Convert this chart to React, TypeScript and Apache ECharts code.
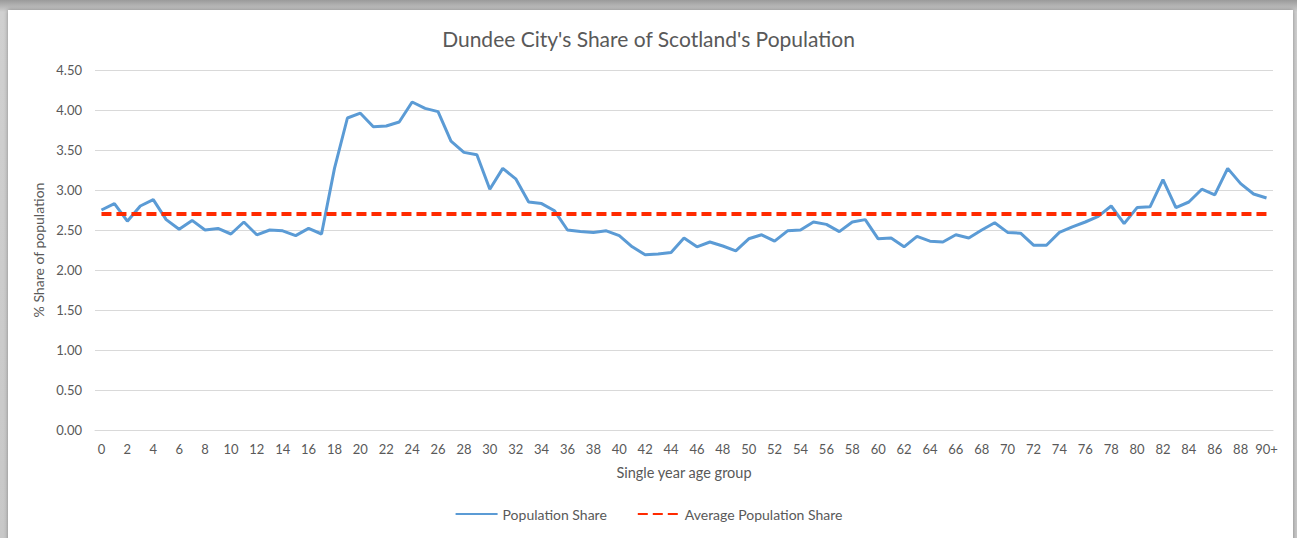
import React, { useEffect, useRef } from "react";
import * as echarts from "echarts";

const ageGroups: string[] = [
  "0","1","2","3","4","5","6","7","8","9","10","11","12","13","14","15","16","17","18","19",
  "20","21","22","23","24","25","26","27","28","29","30","31","32","33","34","35","36","37","38","39",
  "40","41","42","43","44","45","46","47","48","49","50","51","52","53","54","55","56","57","58","59",
  "60","61","62","63","64","65","66","67","68","69","70","71","72","73","74","75","76","77","78","79",
  "80","81","82","83","84","85","86","87","88","89","90+",
];

const populationShare: number[] = [
  2.75, 2.83, 2.61, 2.80, 2.88, 2.63, 2.51, 2.62, 2.50, 2.52,
  2.45, 2.60, 2.44, 2.50, 2.49, 2.43, 2.52, 2.45, 3.27, 3.90,
  3.96, 3.79, 3.80, 3.85, 4.10, 4.02, 3.98, 3.61, 3.47, 3.44,
  3.01, 3.27, 3.14, 2.85, 2.83, 2.74, 2.50, 2.48, 2.47, 2.49,
  2.43, 2.29, 2.19, 2.20, 2.22, 2.40, 2.29, 2.35, 2.30, 2.24,
  2.39, 2.44, 2.36, 2.49, 2.50, 2.60, 2.57, 2.48, 2.60, 2.63,
  2.39, 2.40, 2.29, 2.42, 2.36, 2.35, 2.44, 2.40, 2.50, 2.59,
  2.47, 2.46, 2.31, 2.31, 2.47, 2.54, 2.60, 2.67, 2.80, 2.58,
  2.78, 2.79, 3.13, 2.78, 2.85, 3.01, 2.94, 3.27, 3.08, 2.95,
  2.90,
];

const averageShare: number = 2.7;

const yTicks = { min: 0, max: 4.5, interval: 0.5 };

const chartTitle = "Dundee City's Share of Scotland's Population";
const xAxisTitle = "Single year age group";
const yAxisTitle = "% Share of population";
const seriesNames = ["Population Share", "Average Population Share"];

const FONT = "Lato, 'Open Sans', sans-serif";
const TXT = "#595959";

export default function App() {
  const ref = useRef<HTMLDivElement>(null);

  useEffect(() => {
    if (!ref.current) return;
    const chart = echarts.init(ref.current, null, { renderer: "svg" });
    const avgData = ageGroups.map(() => averageShare);
    chart.setOption({
      animation: false,
      backgroundColor: "transparent",
      textStyle: { fontFamily: FONT, color: TXT },
      title: {
        text: chartTitle,
        left: "center",
        top: 23,
        textStyle: { fontFamily: FONT, fontSize: 21, fontWeight: "normal", color: TXT },
      },
      legend: {
        bottom: 12,
        left: "center",
        itemWidth: 42,
        itemHeight: 10,
        itemGap: 30,
        itemStyle: { opacity: 0 },
        textStyle: { fontFamily: FONT, fontSize: 14, color: TXT },
        data: seriesNames,
      },
      grid: { left: 95, right: 24, top: 70, bottom: 108, containLabel: false },
      xAxis: {
        type: "category",
        data: ageGroups,
        boundaryGap: true,
        name: xAxisTitle,
        nameLocation: "middle",
        nameGap: 35,
        nameTextStyle: { fontFamily: FONT, fontSize: 14.5, color: TXT },
        axisLine: { show: true, lineStyle: { color: "#D9D9D9", width: 1 } },
        axisTick: { show: false },
        axisLabel: { interval: 1, margin: 12, fontSize: 13, color: TXT, fontFamily: FONT },
      },
      yAxis: {
        type: "value",
        min: yTicks.min,
        max: yTicks.max,
        interval: yTicks.interval,
        name: yAxisTitle,
        nameLocation: "middle",
        nameGap: 50,
        nameRotate: 90,
        nameTextStyle: { fontFamily: FONT, fontSize: 14, color: TXT },
        axisLine: { show: false },
        axisTick: { show: false },
        axisLabel: {
          margin: 13,
          fontSize: 13,
          color: TXT,
          fontFamily: FONT,
          formatter: (v: number) => v.toFixed(2),
        },
        splitLine: { lineStyle: { color: "#D9D9D9", width: 1 } },
      },
      series: [
        {
          name: seriesNames[0],
          type: "line",
          data: populationShare,
          symbol: "none",
          lineStyle: { color: "#5B9BD5", width: 3 },
          itemStyle: { color: "#5B9BD5" },
        },
        {
          name: seriesNames[1],
          type: "line",
          data: avgData,
          symbol: "none",
          lineStyle: { color: "#FF2A00", width: 4, type: [10, 5] },
          itemStyle: { color: "#FF2A00" },
        },
      ],
    });
    return () => chart.dispose();
  }, []);

  return (
    <div
      style={{
        position: "fixed",
        left: 0,
        top: 0,
        width: 1297,
        height: 538,
        background: "linear-gradient(#9a9a9a, #d0d0d0 12px, #c8c8c8)",
        overflow: "hidden",
      }}
    >
      <div
        style={{
          position: "absolute",
          left: 8,
          top: 10,
          width: 1285,
          height: 540,
          background: "#fff",
          boxShadow: "0 0 4px rgba(0,0,0,0.35)",
        }}
      />
      <div ref={ref} style={{ position: "absolute", left: 0, top: 0, width: 1297, height: 538 }} />
    </div>
  );
}
